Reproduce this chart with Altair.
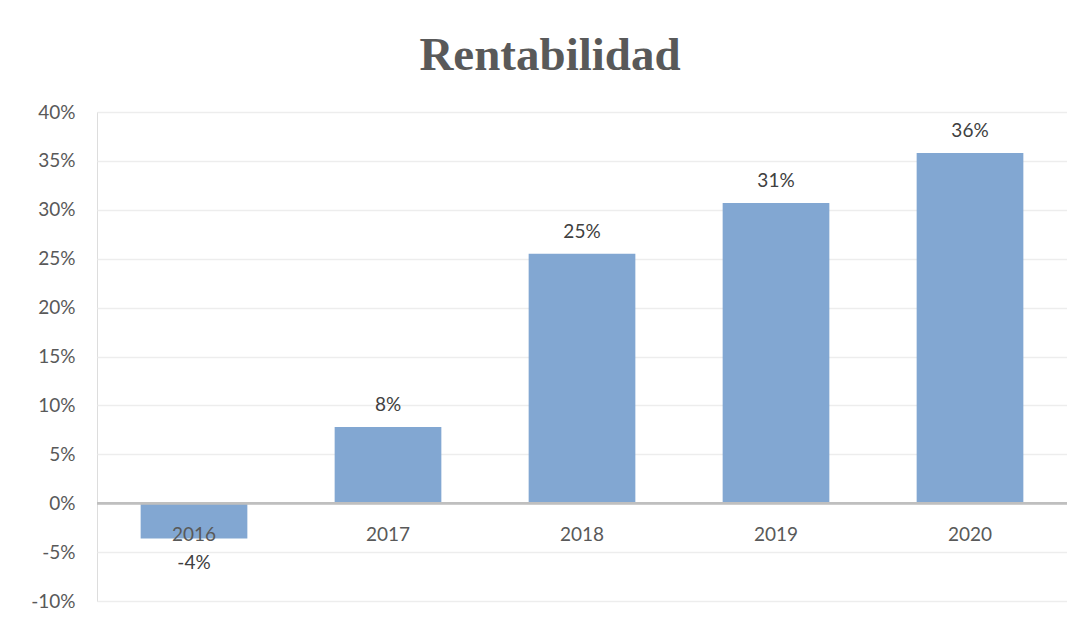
import altair as alt
import pandas as pd

years = ["2016", "2017", "2018", "2019", "2020"]
values = [-0.036, 0.078, 0.255, 0.307, 0.358]
labels = ["-4%", "8%", "25%", "31%", "36%"]

df = pd.DataFrame({"year": years, "value": values, "label": labels})
df["zero"] = 0.0

x = alt.X("year:N", sort=years, axis=None,
          scale=alt.Scale(paddingInner=0.45, paddingOuter=0.225))
yscale = alt.Scale(domain=[-0.10, 0.40], nice=False, zero=False)
yaxis = alt.Axis(format=".0%", values=[-0.10, -0.05, 0, 0.05, 0.10, 0.15, 0.20, 0.25, 0.30, 0.35, 0.40],
                 labelExpr="replace(datum.label, '\u2212', '-')",
                 domain=False, ticks=False, labelPadding=22,
                 labelFont="Lato", labelFontSize=19, labelColor="#595959",
                 gridColor="#EDEDED", gridWidth=1.5, title=None)

bars = alt.Chart(df).mark_bar(color="#82A7D2").encode(
    x=x,
    y=alt.Y("value:Q", scale=yscale, axis=yaxis),
)

zero = alt.Chart(df).mark_rule(color="#BFBFBF", strokeWidth=2).encode(
    y=alt.Y("zero:Q", scale=yscale, axis=yaxis)
)

cat = alt.Chart(df).mark_text(baseline="middle", dy=32, font="Lato", fontSize=19, color="#595959").encode(
    x=x, y=alt.Y("zero:Q", scale=yscale, axis=yaxis), text="year:N"
)

pos_lbl = alt.Chart(df).transform_filter("datum.value >= 0").mark_text(
    baseline="bottom", dy=-12, font="Lato", fontSize=19, color="#404040").encode(
    x=x, y=alt.Y("value:Q", scale=yscale, axis=yaxis), text="label:N"
)
neg_lbl = alt.Chart(df).transform_filter("datum.value < 0").mark_text(
    baseline="top", dy=16, font="Lato", fontSize=19, color="#404040").encode(
    x=x, y=alt.Y("value:Q", scale=yscale, axis=yaxis), text="label:N"
)

chart = alt.layer(bars, zero, cat, pos_lbl, neg_lbl).properties(
    width=970, height=489,
    autosize=alt.AutoSizeParams(type="none"),
    padding={"left": 89, "top": 104, "right": 0, "bottom": 14},
    title=alt.TitleParams("Rentabilidad", font="Liberation Serif", fontWeight="bold",
                          fontSize=47, color="#595959", anchor="middle", dx=-32, offset=23),
).configure_view(strokeWidth=0).configure_axis(domain=False).configure(background="white")

chart.save("out.html", embed_options={"renderer": "svg", "actions": False})
